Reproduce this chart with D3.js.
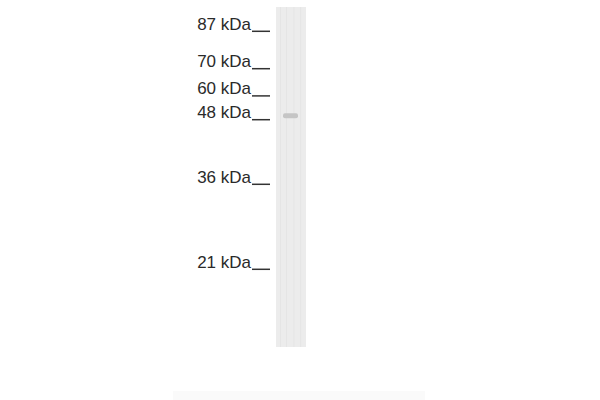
<!DOCTYPE html>
<html>
<head>
<meta charset="utf-8">
<script src="https://cdn.jsdelivr.net/npm/d3@7"></script>
<style>
  body { margin: 0; background: #fff; }
  .marker text { font-family: "Liberation Sans", Arial, sans-serif; font-size: 17px; fill: #2a2a2a; }
</style>
</head>
<body>
<div id="blot"></div>
<script>
// marker ladder (kDa) and their relative mobility
var markerKDa = [87, 70, 60, 48, 36, 21];
var markerRf = [0.07, 0.18, 0.26, 0.33, 0.52, 0.77];

// detected band in the single lane
var bandRf = [0.32];
var bandIntensity = [0.26];

var svgWidth = 600;
var svgHeight = 400;

var lane = { left: 276, width: 30, top: 7, bottom: 347 };

var svg = d3.select("#blot")
  .append("svg")
  .attr("width", svgWidth)
  .attr("height", svgHeight);

svg.append("rect")
  .attr("width", svgWidth)
  .attr("height", svgHeight)
  .attr("fill", "#fff");

// mobility -> vertical position on the membrane
var yScale = d3.scaleLinear()
  .domain([0, 1])
  .range([lane.top, lane.bottom]);

// lane background
svg.append("rect")
  .attr("x", lane.left)
  .attr("y", lane.top)
  .attr("width", lane.width)
  .attr("height", lane.bottom - lane.top)
  .attr("fill", "#ececec");

// faint vertical streaks in the lane
[0.15, 0.35, 0.6, 0.82].forEach(f => {
  svg.append("line")
    .attr("x1", lane.left + f * lane.width)
    .attr("x2", lane.left + f * lane.width)
    .attr("y1", lane.top)
    .attr("y2", lane.bottom)
    .attr("stroke", "#e5e5e5")
    .attr("stroke-width", 1);
});

// band
var grey = d3.scaleLinear().domain([0, 1]).range(["#ececec", "#555"]);
svg.selectAll(".band")
  .data(bandRf)
  .enter()
  .append("rect")
  .classed("band", true)
  .attr("x", lane.left + 7)
  .attr("y", d => yScale(d) - 2.5)
  .attr("width", 15)
  .attr("height", 5)
  .attr("rx", 2)
  .attr("fill", (d, i) => grey(bandIntensity[i]));

// marker labels with tick dashes
var marker = svg.selectAll(".marker")
  .data(markerKDa)
  .enter()
  .append("g")
  .classed("marker", true)
  .attr("transform", (d, i) => `translate(0, ${yScale(markerRf[i])})`);

marker.append("text")
  .attr("x", 251)
  .attr("y", -1)
  .attr("text-anchor", "end")
  .text(d => d + " kDa");

marker.append("line")
  .attr("x1", 252)
  .attr("x2", 270)
  .attr("y1", 0.5)
  .attr("y2", 0.5)
  .attr("stroke", "#333")
  .attr("stroke-width", 1.5);

// very faint strip at the bottom of the image
svg.append("rect")
  .attr("x", 173)
  .attr("y", 391)
  .attr("width", 252)
  .attr("height", 9)
  .attr("fill", "#fafafa");
</script>
</body>
</html>
